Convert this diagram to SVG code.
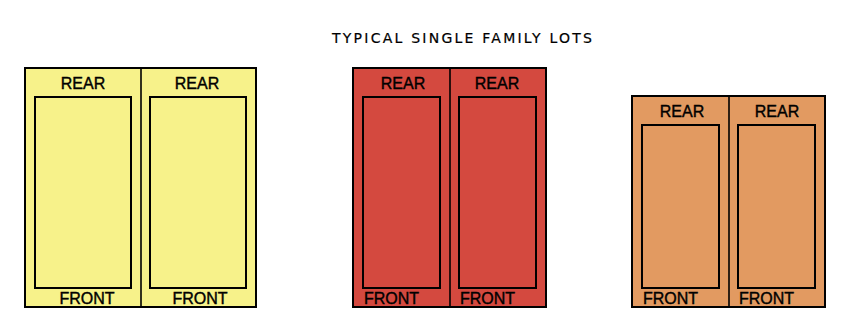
<svg xmlns="http://www.w3.org/2000/svg" width="844" height="324" viewBox="0 0 844 324">
<style>
.o{stroke:#000;stroke-width:2}
.i{fill:none;stroke:#000;stroke-width:2}
.d{stroke:#000;stroke-width:1.6}
.t{font-family:"Liberation Sans",Arial,sans-serif;font-size:16px;fill:#000;stroke:#000;stroke-width:0.4}
.c{text-anchor:middle}
.h{font-family:"DejaVu Sans",sans-serif;font-size:14px;fill:#000;stroke:#000;stroke-width:0.2}
</style>
<rect width="844" height="324" fill="#fff"/>
<text class="h" x="332" y="43" textLength="260" lengthAdjust="spacing">TYPICAL SINGLE FAMILY LOTS</text>
<g id="yellow-lots">
<rect class="o" x="25" y="68" width="231" height="239" fill="#F7F28A"/>
<line class="d" x1="141" y1="68" x2="141" y2="307"/>
<rect class="i" x="35" y="97" width="96" height="191"/>
<rect class="i" x="150" y="97" width="96" height="191"/>
<text class="t c" x="83" y="89">REAR</text>
<text class="t c" x="197" y="89">REAR</text>
<text class="t c" x="87" y="304">FRONT</text>
<text class="t c" x="200" y="304">FRONT</text>
</g>
<g id="red-lots">
<rect class="o" x="353" y="68" width="193" height="239" fill="#D4493F"/>
<line class="d" x1="450" y1="68" x2="450" y2="307"/>
<rect class="i" x="363" y="97" width="77" height="191"/>
<rect class="i" x="459" y="97" width="77" height="191"/>
<text class="t c" x="403" y="89">REAR</text>
<text class="t c" x="497" y="89">REAR</text>
<text class="t" x="364" y="304">FRONT</text>
<text class="t" x="460" y="304">FRONT</text>
</g>
<g id="orange-lots">
<rect class="o" x="632" y="96" width="193" height="211" fill="#E29A61"/>
<line class="d" x1="729" y1="96" x2="729" y2="307"/>
<rect class="i" x="642" y="125" width="77" height="163"/>
<rect class="i" x="738" y="125" width="77" height="163"/>
<text class="t c" x="682" y="117">REAR</text>
<text class="t c" x="777" y="117">REAR</text>
<text class="t" x="643" y="304">FRONT</text>
<text class="t" x="739" y="304">FRONT</text>
</g>
<g id="connectors"/>
</svg>
